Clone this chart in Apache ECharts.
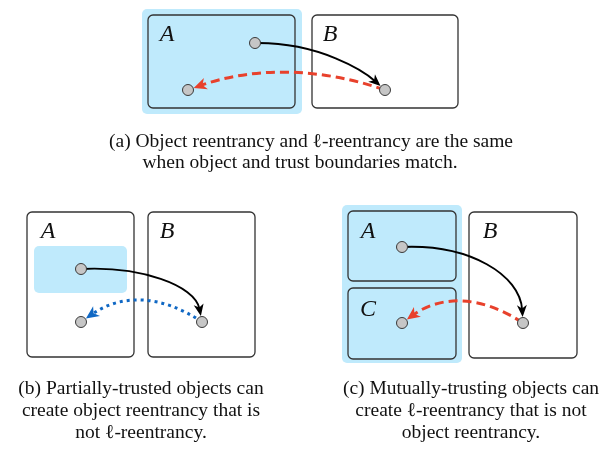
<!DOCTYPE html>
<html>
<head>
<meta charset="utf-8">
<script src="https://cdn.jsdelivr.net/npm/echarts@6/dist/echarts.min.js"></script>
<style>
    html, body { margin: 0; padding: 0; background: #fff; }
    #main { width: 603px; height: 449px; }
</style>
</head>
<body>
<div id="main"></div>
<script>
// trust regions (light blue), [x0, y0, x1, y1]
const trustZones = [
    [142, 9, 302, 114],
    [34, 246, 127, 293],
    [342, 205, 462, 363]
];
// object boxes, [x0, y0, x1, y1]
const objectBoxes = [
    [148, 15, 295, 108],
    [312, 15, 458, 108],
    [27, 212, 134, 357],
    [148, 212, 255, 357],
    [348, 211, 456, 281],
    [348, 288, 456, 359],
    [469, 212, 577, 358]
];
const boxLabels = [
    [167, 35, 'A'], [330, 35, 'B'],
    [48, 232, 'A'], [167, 232, 'B'],
    [368, 232, 'A'], [490, 232, 'B'], [368, 310, 'C']
];
const nodes = [
    [255, 43], [188, 90], [385, 90],
    [81, 269], [81, 322], [202, 322],
    [402, 247], [402, 323], [523, 323]
];
// arrows: start, control 1, control 2, end
const callArrows = [
    [255, 43, 320, 42, 365, 72, 385, 90],
    [81, 269, 140, 266, 195, 285, 202, 322],
    [402, 247, 470, 244, 520, 275, 523, 323]
];
const reentryArrows = [
    [385, 90, 319, 67, 253, 67, 188, 90],
    [523, 323, 481, 295, 441, 295, 402, 323]
];
const objectReentryArrows = [
    [202, 322, 161, 294, 121, 294, 81, 322]
];
// caption lines: text, centre x, y
const captionLines = [
    ['(a) Object reentrancy and \u2113-reentrancy are the same', 311, 142],
    ['when object and trust boundaries match.', 300, 163],
    ['(b) Partially-trusted objects can', 141, 389],
    ['create object reentrancy that is', 141, 411],
    ['not \u2113-reentrancy.', 141, 433],
    ['(c) Mutually-trusting objects can', 471, 389],
    ['create \u2113-reentrancy that is not', 471, 411],
    ['object reentrancy.', 471, 433]
];

const nodeR = 5.5;
const serif = '"Liberation Serif", "DejaVu Serif", serif';

function rectSeries(data, fill, stroke, z) {
    return {
        type: 'custom', z, silent: true, data,
        encode: { x: [0, 2], y: [1, 3] },
        renderItem: (params, api) => {
            let p0 = api.coord([api.value(0), api.value(1)])
            let p1 = api.coord([api.value(2), api.value(3)])
            return {
                type: 'rect',
                shape: { x: p0[0], y: p0[1], width: p1[0] - p0[0], height: p1[1] - p0[1], r: 5 },
                style: { fill, stroke, lineWidth: stroke ? 1.3 : 0 }
            }
        }
    }
}

function arrowSeries(data, color, width, dash, headLen, headW) {
    return {
        type: 'custom', z: 3, silent: true, data,
        encode: { x: [0, 2, 4, 6], y: [1, 3, 5, 7] },
        renderItem: (params, api) => {
            let p = [0, 1, 2, 3].map(i => api.coord([api.value(2 * i), api.value(2 * i + 1)]))
            let dx = p[3][0] - p[2][0], dy = p[3][1] - p[2][1]
            let len = Math.hypot(dx, dy)
            dx /= len; dy /= len
            let nx = -dy, ny = dx
            let tip = [p[3][0] - dx * (nodeR + 0.5), p[3][1] - dy * (nodeR + 0.5)]
            let end = [tip[0] - dx * headLen * 0.6, tip[1] - dy * headLen * 0.6]
            let base = [tip[0] - dx * headLen, tip[1] - dy * headLen]
            let inset = [tip[0] - dx * headLen * 0.72, tip[1] - dy * headLen * 0.72]
            return {
                type: 'group',
                children: [{
                    type: 'bezierCurve',
                    shape: {
                        x1: p[0][0], y1: p[0][1],
                        cpx1: p[1][0], cpy1: p[1][1],
                        cpx2: p[2][0], cpy2: p[2][1],
                        x2: end[0], y2: end[1]
                    },
                    style: { fill: 'none', stroke: color, lineWidth: width, lineDash: dash }
                }, {
                    type: 'polygon',
                    shape: {
                        points: [
                            tip,
                            [base[0] + nx * headW, base[1] + ny * headW],
                            inset,
                            [base[0] - nx * headW, base[1] - ny * headW]
                        ]
                    },
                    style: { fill: color }
                }]
            }
        }
    }
}

function textSeries(list, font, z) {
    return {
        type: 'custom', z, silent: true,
        data: list.map(d => [d[0], d[1]]),
        encode: { x: 0, y: 1 },
        renderItem: (params, api) => {
            let p = api.coord([api.value(0), api.value(1)])
            return {
                type: 'text', x: p[0], y: p[1],
                style: {
                    text: list[params.dataIndex][2], font, fill: '#111',
                    textAlign: 'center', textVerticalAlign: 'middle'
                }
            }
        }
    }
}

let myChart = echarts.init(document.getElementById('main'))
myChart.setOption({
    animation: false,
    grid: { left: 0, right: 0, top: 0, bottom: 0 },
    xAxis: { type: 'value', min: 0, max: 603, show: false },
    yAxis: { type: 'value', min: 0, max: 449, inverse: true, show: false },
    series: [
        rectSeries(trustZones, '#bfeafc', null, 1),
        rectSeries(objectBoxes, 'none', '#333', 2),
        arrowSeries(callArrows, '#000', 1.9, null, 12, 5),
        arrowSeries(reentryArrows, '#e8412c', 3, [9, 5], 13, 6),
        arrowSeries(objectReentryArrows, '#1068c4', 3, [3, 4], 13, 6),
        {
            type: 'scatter', z: 4, silent: true, data: nodes,
            symbolSize: nodeR * 2,
            itemStyle: { color: '#c6c6c6', borderColor: '#3a3a3a', borderWidth: 1, opacity: 1 }
        },
        textSeries(boxLabels, 'italic 24px ' + serif, 5),
        textSeries(captionLines.map(c => [c[1], c[2], c[0]]), '19.5px ' + serif, 5)
    ]
}, true)
</script>
</body>
</html>
